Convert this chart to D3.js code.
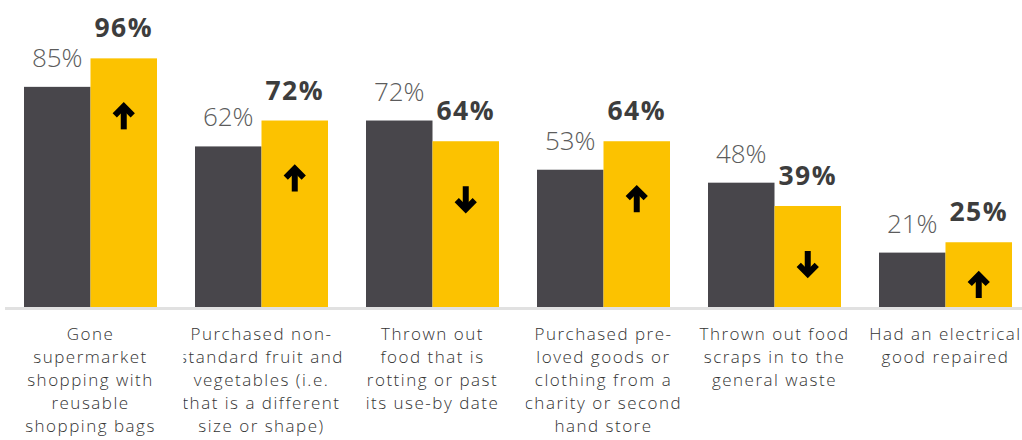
<!DOCTYPE html>
<html>
<head>
<meta charset="utf-8">
<script src="https://cdn.jsdelivr.net/npm/d3@7"></script>
<style>
  html, body { margin: 0; padding: 0; background: #fff; }
  svg { display: block; }
</style>
</head>
<body>
<svg id="chart" width="1022" height="440"></svg>
<script>
// Category labels, already broken into the lines they are set on
const categoryLines = [
  ["Gone", "supermarket", "shopping with", "reusable", "shopping bags"],
  ["Purchased non-", "standard fruit and", "vegetables (i.e.", "that is a different", "size or shape)"],
  ["Thrown out", "food that is", "rotting or past", "its use-by date"],
  ["Purchased pre-", "loved goods or", "clothing from a", "charity or second", "hand store"],
  ["Thrown out food", "scraps in to the", "general waste"],
  ["Had an electrical", "good repaired"]
];
const categories = categoryLines.map(l => l.join(" "));
const previousValues = [85, 62, 72, 53, 48, 21];
const currentValues = [96, 72, 64, 64, 39, 25];
const seriesKeys = ["previous", "current"];

const svg = d3.select("#chart");
const width = 1022, height = 440;
const baseY = 307;
const leftEdge = 5;

const x0 = d3.scaleBand()
  .domain(categories)
  .range([leftEdge, 1031])
  .paddingInner(38 / 171)
  .paddingOuter(19 / 171);

const x1 = d3.scaleBand()
  .domain(seriesKeys)
  .range([0, x0.bandwidth()]);

const y = d3.scaleLinear().domain([0, 100]).range([baseY, 48]);

const colors = { previous: "#48464b", current: "#fcc200" };

const rows = categories.map((c, i) => ({
  category: c,
  lines: categoryLines[i],
  previous: previousValues[i],
  current: currentValues[i]
}));

// baseline
svg.append("line")
  .attr("x1", leftEdge).attr("x2", width)
  .attr("y1", baseY + 1.5).attr("y2", baseY + 1.5)
  .attr("stroke", "#e1e1e1").attr("stroke-width", 3);

const groups = svg.selectAll("g.group")
  .data(rows)
  .join("g")
  .attr("class", "group")
  .attr("transform", d => `translate(${x0(d.category)},0)`);

groups.selectAll("rect")
  .data(d => seriesKeys.map(k => ({ key: k, value: d[k] })))
  .join("rect")
  .attr("x", d => x1(d.key))
  .attr("width", x1.bandwidth())
  .attr("y", d => y(d.value))
  .attr("height", d => y(0) - y(d.value))
  .attr("fill", d => colors[d.key]);

// value labels
groups.append("text")
  .attr("x", x1("previous") + x1.bandwidth() / 2)
  .attr("y", d => y(d.previous) - 20)
  .attr("text-anchor", "middle")
  .attr("font-family", "'Open Sans', sans-serif")
  .attr("font-weight", 300)
  .attr("font-size", 26)
  .attr("fill", "#5c5c5c")
  .text(d => d.previous + "%");

groups.append("text")
  .attr("x", x1("current") + x1.bandwidth() / 2)
  .attr("y", d => y(d.current) - 21)
  .attr("text-anchor", "middle")
  .attr("font-family", "'Open Sans', sans-serif")
  .attr("font-weight", 700)
  .attr("font-size", 26.5)
  .attr("letter-spacing", 1.5)
  .attr("fill", "#3d3d3d")
  .text(d => d.current + "%");

// change arrows inside the current bars
groups.each(function(d) {
  const g = d3.select(this);
  const cx = x1("current") + x1.bandwidth() / 2;
  const cy = Math.min(y(d.current) + 58, baseY - 22);
  const up = d.current >= d.previous;
  const s = up ? 1 : -1;
  const a = g.append("g").attr("transform", `translate(${cx},${cy}) scale(1,${s})`);
  a.append("path")
    .attr("d", "M0,13 L0,-9")
    .attr("stroke", "#000").attr("stroke-width", 6).attr("fill", "none");
  a.append("path")
    .attr("d", "M-9,-1 L0,-10 L9,-1")
    .attr("stroke", "#000").attr("stroke-width", 6)
    .attr("stroke-linejoin", "miter").attr("stroke-linecap", "butt")
    .attr("fill", "none");
});

// category labels: each sits in a box that starts inside the left edge,
// and is clipped on its left side
const boxHalf = 76;
const labelX = d => Math.max(x0(d.category) + x0.bandwidth() / 2, leftEdge + boxHalf);
const defs = svg.append("defs");
rows.forEach((d, i) => {
  const cx = labelX(d);
  defs.append("clipPath").attr("id", "clip" + i)
    .append("rect")
    .attr("x", cx - 78).attr("y", baseY + 4)
    .attr("width", 175).attr("height", height - baseY);
});

rows.forEach((d, i) => {
  const cx = labelX(d);
  const t = svg.append("text")
    .attr("clip-path", `url(#clip${i})`)
    .attr("text-anchor", "middle")
    .attr("font-family", "'Open Sans', sans-serif")
    .attr("font-weight", 300)
    .attr("font-size", 17)
    .attr("letter-spacing", 1.5)
    .attr("fill", "#333");
  d.lines.forEach((ln, j) => {
    t.append("tspan").attr("x", cx).attr("y", 340 + j * 23).text(ln);
  });
});
</script>
</body>
</html>
